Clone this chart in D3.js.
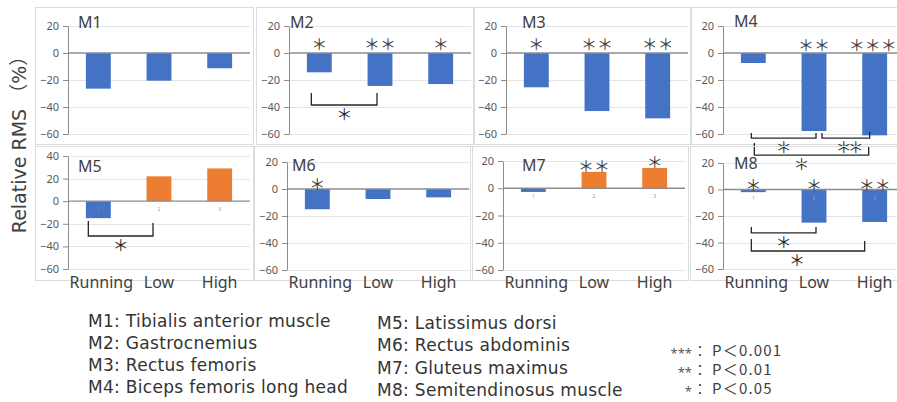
<!DOCTYPE html>
<html>
<head>
<meta charset="utf-8">
<script src="https://cdn.jsdelivr.net/npm/d3@7"></script>
<style>
  body { margin: 0; background: #fff; }
  svg { display: block; }
</style>
</head>
<body>
<div id="chart"></div>
<script>
// data
const muscleIds = ['M1', 'M2', 'M3', 'M4', 'M5', 'M6', 'M7', 'M8'];
const muscleNames = [
  'Tibialis anterior muscle', 'Gastrocnemius', 'Rectus femoris', 'Biceps femoris long head',
  'Latissimus dorsi', 'Rectus abdominis', 'Gluteus maximus', 'Semitendinosus muscle'
];
const categories = ['Running', 'Low', 'High'];
const relativeRms = [
  [-26.4, -20.5, -11.3],
  [-14.3, -24.4, -23.0],
  [-25.4, -43.0, -48.4],
  [-7.4, -57.8, -61.0],
  [-15.0, 22.0, 29.0],
  [-15.0, -7.4, -6.2],
  [-2.7, 12.0, 14.9],
  [-2.0, -25.0, -24.5]
];
const barStars = [
  ['', '', ''],
  ['*', '**', '*'],
  ['*', '**', '**'],
  ['', '**', '***'],
  ['', '', ''],
  ['*', '', ''],
  ['', '**', '*'],
  ['*', '*', '**']
];
// pairwise comparisons: panel index, from/to category, bracket level (in %)
const brackets = [
  { panel: 1, from: 0, to: 1, level: -38.5, label: '*' },
  { panel: 3, from: 0, to: 1, level: -63, label: '*' },
  { panel: 3, from: 1, to: 2, level: -63, label: '**' },
  { panel: 3, from: 0, to: 2, level: -75.6, label: '*' },
  { panel: 4, from: 0, to: 1, level: -30.8, label: '*' },
  { panel: 7, from: 0, to: 1, level: -32.8, label: '*' },
  { panel: 7, from: 0, to: 2, level: -46.4, label: '*' }
];
const yMax = [20, 20, 20, 20, 40, 20, 20, 20];
const yMin = -60;
const pLegend = [['***', 'P＜0.001'], ['**', 'P＜0.01'], ['*', 'P＜0.05']];

// layout
const width = 897;
const height = 402;
const plotW = 182;
const panelLayout = [
  { x: 68, top: 26, bottom: 134, titleDx: 10, titleY: 28, starDy: -9 },
  { x: 289, top: 26, bottom: 134, titleDx: 1, titleY: 28, starDy: -10 },
  { x: 506, top: 26, bottom: 134, titleDx: 16, titleY: 28, starDy: -10 },
  { x: 723, top: 26, bottom: 134, titleDx: 11, titleY: 27, starDy: -9 },
  { x: 68, top: 156, bottom: 269, titleDx: 10, titleY: 172, starDy: -8 },
  { x: 287, top: 162, bottom: 270, titleDx: 5, titleY: 171, starDy: -6 },
  { x: 503, top: 161, bottom: 270, titleDx: 19, titleY: 171, starDy: -7 },
  { x: 723, top: 163, bottom: 269, titleDx: 11, titleY: 169, starDy: -6 }
];
const bracketLayout = [
  { dxL: -8, dxR: -3, legL: 12, legR: 12, labelDx: 0 },
  { dxL: -2, dxR: 2, legL: 5, legR: 5, labelDx: 0 },
  { dxL: 8, dxR: -5, legL: 5, legR: 6, labelDx: 2 },
  { dxL: 1, dxR: -6, legL: 12, legR: 8, labelDx: -10 },
  { dxL: -10, dxR: -6, legL: 15, legR: 13, labelDx: 0 },
  { dxL: -2, dxR: 2, legL: 6, legR: 6, labelDx: 0 },
  { dxL: -2, dxR: -10, legL: 12, legR: 10, labelDx: -11 }
];

const blue = '#4472C4';
const orange = '#ED7D31';
const sans = "'Noto Sans', 'Noto Sans CJK JP', sans-serif";
const cjk = "'Noto Sans CJK JP', sans-serif";
const wide = "'DejaVu Sans', 'Noto Sans CJK JP', sans-serif";
const toStars = s => s.replace(/\*/g, '＊');

const svg = d3.select('#chart')
  .append('svg')
  .attr('width', width)
  .attr('height', height)
  .attr('font-family', sans);

muscleIds.forEach((id, i) => {
  const L = panelLayout[i];
  const row = i < 4 ? 0 : 1;

  const y = d3.scaleLinear().domain([yMin, yMax[i]]).range([L.bottom, L.top]);
  const x = d3.scaleBand()
    .domain(categories)
    .range([L.x, L.x + plotW])
    .paddingInner(0.59)
    .paddingOuter(0.295);
  const cx = c => x(categories[c]) + x.bandwidth() / 2;
  const ticks = d3.range(yMin, yMax[i] + 1, 20);

  const g = svg.append('g').attr('class', 'panel');

  // chart frame
  g.append('rect')
    .attr('x', L.x - 33 + 0.5)
    .attr('y', row ? 146.5 : 7.5)
    .attr('width', 218)
    .attr('height', row ? 134 : 137)
    .attr('fill', 'none')
    .attr('stroke', '#dcdcdc');

  // gridlines
  g.selectAll('.grid')
    .data(ticks.filter(t => t !== 0))
    .join('line')
    .attr('class', 'grid')
    .attr('x1', L.x)
    .attr('x2', L.x + plotW)
    .attr('y1', d => Math.round(y(d)) + 0.5)
    .attr('y2', d => Math.round(y(d)) + 0.5)
    .attr('stroke', '#e4e4e4');

  const rows = relativeRms[i].map((v, k) => ({ v, k }));

  g.selectAll('.bar')
    .data(rows)
    .join('rect')
    .attr('class', 'bar')
    .attr('x', d => x(categories[d.k]))
    .attr('width', x.bandwidth())
    .attr('y', d => y(Math.max(0, d.v)))
    .attr('height', d => Math.abs(y(d.v) - y(0)))
    .attr('fill', d => (d.v < 0 ? blue : orange));

  // tiny category numbers under the zero line (M5, M7, M8)
  if (i === 4 || i === 6 || i === 7) {
    g.selectAll('.catnum')
      .data(rows)
      .join('text')
      .attr('class', 'catnum')
      .attr('x', d => cx(d.k))
      .attr('y', y(0) + 10)
      .attr('text-anchor', 'middle')
      .attr('font-size', 5)
      .attr('fill', '#9a9a9a')
      .text(d => d.k + 1);
  }

  // zero line
  g.append('line')
    .attr('x1', L.x)
    .attr('x2', L.x + plotW)
    .attr('y1', y(0))
    .attr('y2', y(0))
    .attr('stroke', '#8c8c8c')
    .attr('stroke-width', 1.3);

  // y axis
  g.append('g')
    .attr('transform', `translate(${L.x},0)`)
    .call(d3.axisLeft(y).tickValues(ticks).tickSize(5).tickSizeOuter(0).tickPadding(4))
    .call(a => {
      a.select('.domain').attr('stroke', '#8c8c8c');
      a.selectAll('.tick line').attr('stroke', '#8c8c8c');
      a.selectAll('.tick text')
        .attr('fill', '#595959')
        .attr('font-size', 11)
        .attr('font-family', sans);
    });

  // significance stars above bars
  g.selectAll('.star')
    .data(rows.filter(d => barStars[i][d.k]))
    .join('text')
    .attr('class', 'star')
    .attr('x', d => cx(d.k) - (barStars[i][d.k].length > 2 ? 2 : 0))
    .attr('y', d => Math.min(y(0), y(d.v)) + L.starDy)
    .attr('text-anchor', 'middle')
    .attr('dominant-baseline', 'central')
    .attr('font-family', cjk)
    .attr('font-size', 16)
    .attr('fill', '#404040')
    .text(d => toStars(barStars[i][d.k]));

  // panel title
  g.append('text')
    .attr('x', L.x + L.titleDx)
    .attr('y', L.titleY)
    .attr('font-size', 16)
    .attr('fill', '#404040')
    .text(id);

  // category labels on the bottom row
  if (row === 1) {
    g.selectAll('.cat')
      .data(categories)
      .join('text')
      .attr('class', 'cat')
      .attr('x', (d, k) => cx(k) + (k === 0 ? 3 : 0))
      .attr('y', 288)
      .attr('text-anchor', 'middle')
      .attr('font-size', 16)
      .attr('fill', '#404040')
      .text(d => d);
  }

  // comparison brackets
  brackets.forEach((b, j) => {
    if (b.panel !== i) return;
    const bl = bracketLayout[j];
    const yH = y(b.level);
    const x1 = cx(b.from) + bl.dxL;
    const x2 = cx(b.to) + bl.dxR;
    g.append('path')
      .attr('d', d3.line()([[x1, yH - bl.legL], [x1, yH], [x2, yH], [x2, yH - bl.legR]]))
      .attr('fill', 'none')
      .attr('stroke', '#262626')
      .attr('stroke-width', 1.3);
    g.append('text')
      .attr('x', (x1 + x2) / 2 + bl.labelDx)
      .attr('y', yH + 8)
      .attr('text-anchor', 'middle')
      .attr('dominant-baseline', 'central')
      .attr('font-family', cjk)
      .attr('font-size', 16)
      .attr('letter-spacing', b.label.length > 1 ? -4 : 0)
      .attr('fill', '#262626')
      .text(toStars(b.label));
  });
});

// y axis title
svg.append('text')
  .attr('transform', 'translate(19,140) rotate(-90)')
  .attr('text-anchor', 'middle')
  .attr('dominant-baseline', 'central')
  .attr('font-family', wide)
  .attr('font-size', 19)
  .attr('fill', '#404040')
  .text('Relative RMS （%）');

// muscle legend
const legend = svg.append('g').attr('class', 'legend');
legend.selectAll('text')
  .data(muscleIds)
  .join('text')
  .attr('x', (d, i) => (i < 4 ? 88 : 377))
  .attr('y', (d, i) => (i < 4 ? 327 + i * 22 : 329 + (i - 4) * 22.3))
  .attr('font-family', wide)
  .attr('font-size', 17)
  .attr('letter-spacing', 0.3)
  .attr('fill', '#333')
  .text((d, i) => `${d}: ${muscleNames[i]}`);

// p-value key
const key = svg.append('g').attr('class', 'pkey');
pLegend.forEach(([s, p], i) => {
  const yb = 356 + i * 19;
  key.append('text')
    .attr('x', 692)
    .attr('y', yb + 2)
    .attr('text-anchor', 'end')
    .attr('font-size', 13)
    .attr('fill', '#595959')
    .text(s);
  key.append('text')
    .attr('x', 693)
    .attr('y', yb)
    .attr('font-family', cjk)
    .attr('font-size', 14)
    .attr('fill', '#404040')
    .text('：');
  key.append('text')
    .attr('x', 712)
    .attr('y', yb)
    .attr('font-family', cjk)
    .attr('font-size', 15)
    .attr('letter-spacing', 1.2)
    .attr('fill', '#404040')
    .text(p);
});
</script>
</body>
</html>
